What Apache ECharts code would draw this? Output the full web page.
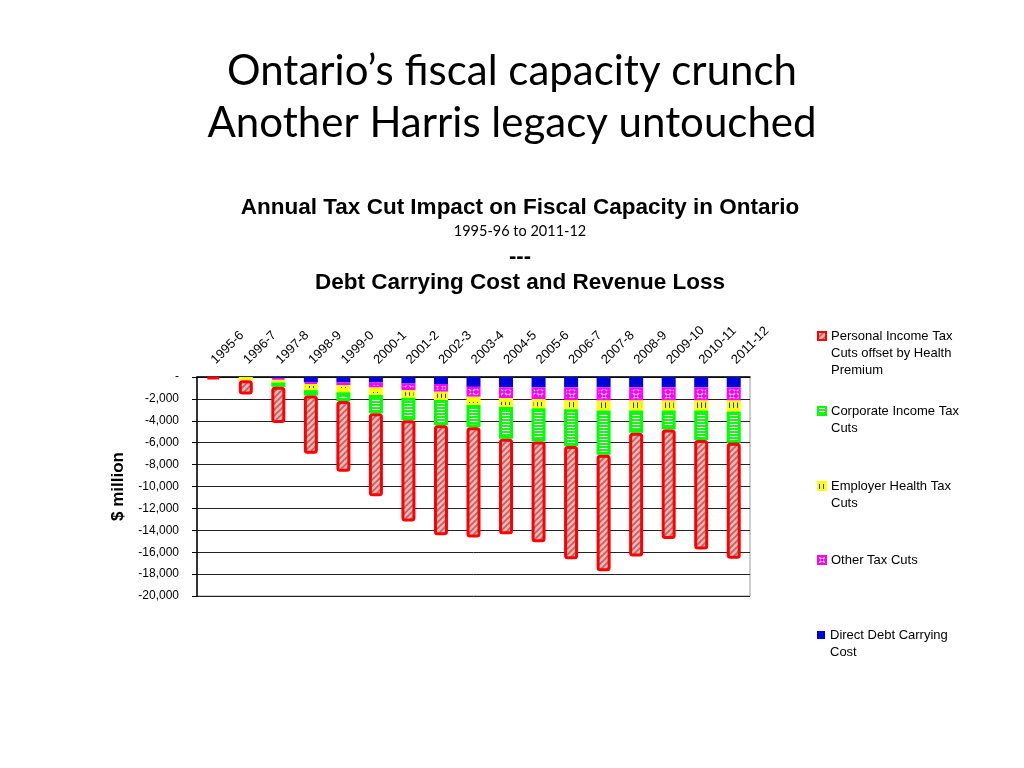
<!DOCTYPE html>
<html>
<head>
<meta charset="utf-8">
<script src="https://cdn.jsdelivr.net/npm/echarts@6/dist/echarts.min.js"></script>
<style>
html,body{margin:0;padding:0;background:#fff;}
#chart{width:1024px;height:768px;}
</style>
</head>
<body>
<div id="chart"></div>
<script>
// ---- data ----
const categories = ['1995-6','1996-7','1997-8','1998-9','1999-0','2000-1','2001-2','2002-3','2003-4','2004-5','2005-6','2006-7','2007-8','2008-9','2009-10','2010-11','2011-12'];
const debtCarrying   = [0, 0, -100, -500, -500, -500, -600, -650, -900, -950, -950, -950, -950, -950, -950, -950, -950];
const otherTax       = [0, 0, -150, -150, -250, -450, -600, -700, -900, -1000, -1050, -1150, -1200, -1200, -1200, -1200, -1200];
const employerHealth = [0, -300, -250, -550, -650, -700, -700, -750, -750, -800, -850, -850, -900, -900, -900, -900, -1000];
const corporateTax   = [0, 0, -400, -500, -800, -1650, -2050, -2300, -2050, -2900, -3050, -3350, -4050, -2050, -1750, -2700, -2850];
const personalTax    = [-200, -1300, -3300, -5300, -6450, -7600, -9250, -10050, -10050, -8700, -9200, -10350, -10650, -11300, -10000, -10000, -10600];
const seriesNames = [
  'Direct Debt Carrying Cost',
  'Other Tax Cuts',
  'Employer Health Tax Cuts',
  'Corporate Income Tax Cuts',
  'Personal Income Tax Cuts offset by Health Premium'
];
const legendLines = {
  'Personal Income Tax Cuts offset by Health Premium': ['Personal Income Tax', 'Cuts offset by Health', 'Premium'],
  'Corporate Income Tax Cuts': ['Corporate Income Tax', 'Cuts'],
  'Employer Health Tax Cuts': ['Employer Health Tax', 'Cuts'],
  'Other Tax Cuts': ['Other Tax Cuts'],
  'Direct Debt Carrying Cost': ['Direct Debt Carrying', 'Cost']
};
const legendOrder = [
  'Personal Income Tax Cuts offset by Health Premium',
  'Corporate Income Tax Cuts',
  'Employer Health Tax Cuts',
  'Other Tax Cuts',
  'Direct Debt Carrying Cost'
];
const yTickMin = -20000, yTickMax = 0, yTickStep = 2000;

// ---- patterns ----
function tile(w, h, draw) {
  const c = document.createElement('canvas');
  c.width = w; c.height = h;
  draw(c.getContext('2d'));
  return { image: c, repeat: 'repeat' };
}
const redPattern = tile(6, 6, ctx => {
  ctx.fillStyle = '#dcbcbc'; ctx.fillRect(0, 0, 6, 6);
  ctx.strokeStyle = '#d05a5a'; ctx.lineWidth = 1.6;
  ctx.beginPath();
  ctx.moveTo(-1, 7); ctx.lineTo(7, -1);
  ctx.moveTo(-4, 4); ctx.lineTo(4, -4);
  ctx.moveTo(2, 10); ctx.lineTo(10, 2);
  ctx.stroke();
});
const greenPattern = tile(4, 3, ctx => {
  ctx.fillStyle = '#22ee22'; ctx.fillRect(0, 0, 4, 3);
  ctx.fillStyle = '#ffffff'; ctx.fillRect(0, 1, 4, 1);
});
const yellowPattern = tile(4, 10, ctx => {
  ctx.fillStyle = '#ffff00'; ctx.fillRect(0, 0, 4, 10);
  ctx.fillStyle = '#2233bb'; ctx.fillRect(1, 2, 1, 6);
});
const magentaPattern = tile(8, 8, ctx => {
  ctx.fillStyle = '#ff00ff'; ctx.fillRect(0, 0, 8, 8);
  ctx.strokeStyle = '#ffffff'; ctx.lineWidth = 1.4;
  ctx.beginPath();
  ctx.moveTo(1, 1); ctx.lineTo(7, 7);
  ctx.moveTo(7, 1); ctx.lineTo(1, 7);
  ctx.stroke();
  ctx.fillStyle = '#ff00ff'; ctx.fillRect(3, 3, 2, 2);
});

const styles = {
  'Direct Debt Carrying Cost': { color: '#0000dd', borderColor: '#0000dd', borderWidth: 0 },
  'Other Tax Cuts': { color: magentaPattern, borderColor: '#ff00ff', borderWidth: 2 },
  'Employer Health Tax Cuts': { color: yellowPattern, borderColor: '#ffff00', borderWidth: 2 },
  'Corporate Income Tax Cuts': { color: greenPattern, borderColor: '#00ff00', borderWidth: 3 },
  'Personal Income Tax Cuts offset by Health Premium': { color: redPattern, borderColor: '#ff0000', borderWidth: 3, borderRadius: 2 }
};
const seriesData = [debtCarrying, otherTax, employerHealth, corporateTax, personalTax];

const FONT = 'Liberation Sans, Arial, sans-serif';

const series = seriesNames.map((name, i) => ({
  name,
  type: 'bar',
  stack: 'total',
  barWidth: 14,
  // zero-height segments get no border so they leave no stray line
  data: seriesData[i].map(v => v === 0 ? { value: v, itemStyle: { borderWidth: 0 } } : v),
  itemStyle: styles[name],
  emphasis: { disabled: true }
}));

// legends: one per item, icon aligned with first text line
const legendCenters = [336, 411, 486, 560, 635];
const LH = 17;
const legends = legendOrder.map((name, i) => {
  const n = legendLines[name].length;
  return {
    data: [{ name, icon: 'rect' }],
    orient: 'vertical',
    left: 817,
    top: legendCenters[i] - (2 * n - 1) * LH / 2,
    padding: 0,
    itemWidth: 8,
    itemHeight: 8,
    selectedMode: false,
    formatter: nm => '\n'.repeat(legendLines[nm].length - 1) + legendLines[nm].join('\n'),
    textStyle: { fontFamily: FONT, fontSize: 13, color: '#000', lineHeight: LH }
  };
});

const chart = echarts.init(document.getElementById('chart'), null, { renderer: 'canvas' });
chart.setOption({
  animation: false,
  backgroundColor: '#fff',
  graphic: [
    { type: 'text', left: 'center', top: 50, style: { text: 'Ontario\u2019s fiscal capacity crunch', font: '42px Lato, sans-serif', fill: '#000' } },
    { type: 'text', left: 'center', top: 102, style: { text: 'Another Harris legacy untouched', font: '42px Lato, sans-serif', fill: '#000' } },
    { type: 'text', x: 520, y: 208, style: { text: 'Annual Tax Cut Impact on Fiscal Capacity in Ontario', font: 'bold 22.5px ' + FONT, fill: '#000', align: 'center', verticalAlign: 'middle' } },
    { type: 'text', x: 520, y: 231, style: { text: '1995-96 to 2011-12', font: '14.5px Lato, sans-serif', fill: '#000', align: 'center', verticalAlign: 'middle' } },
    { type: 'text', x: 520, y: 257, style: { text: '---', font: 'bold 22px ' + FONT, fill: '#000', align: 'center', verticalAlign: 'middle' } },
    { type: 'text', x: 520, y: 283, style: { text: 'Debt Carrying Cost and Revenue Loss', font: 'bold 22.5px ' + FONT, fill: '#000', align: 'center', verticalAlign: 'middle' } }
  ],
  legend: legends,
  grid: {
    left: 197, top: 377, width: 553, height: 219,
    show: true, borderColor: '#999', borderWidth: 1, backgroundColor: 'transparent'
  },
  xAxis: {
    type: 'category',
    position: 'top',
    data: categories,
    axisLine: { lineStyle: { color: '#000', width: 1.5 } },
    axisTick: { inside: true, length: 4, lineStyle: { color: '#000' } },
    axisLabel: { interval: 0, rotate: 45, margin: 15, fontFamily: FONT, fontSize: 13, color: '#000' },
    splitLine: { show: false }
  },
  yAxis: {
    type: 'value',
    min: yTickMin, max: yTickMax, interval: yTickStep,
    name: '$ million',
    nameLocation: 'middle',
    nameGap: 70,
    nameTextStyle: { fontFamily: FONT, fontSize: 17, fontWeight: 'bold', color: '#000' },
    axisLine: { show: true, lineStyle: { color: '#000', width: 1.5 } },
    axisTick: { show: true, length: 5, lineStyle: { color: '#000' } },
    axisLabel: {
      margin: 18, fontFamily: FONT, fontSize: 12, color: '#000',
      formatter: v => v === 0 ? '-' : v.toLocaleString('en-US')
    },
    splitLine: { show: true, lineStyle: { color: '#222', width: 1 } }
  },
  series
});
</script>
</body>
</html>
